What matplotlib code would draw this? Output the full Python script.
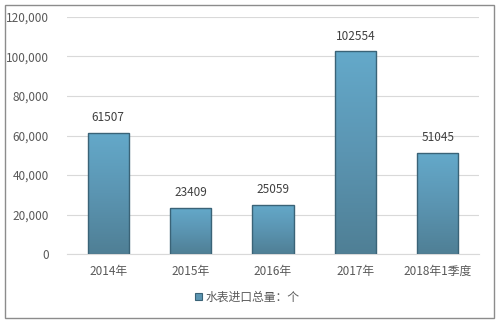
import matplotlib
matplotlib.use("Agg")
import matplotlib.pyplot as plt
import numpy as np
from matplotlib.patches import Rectangle, Patch
from matplotlib.colors import LinearSegmentedColormap

plt.rcParams['font.family'] = ['Noto Sans CJK SC', 'DejaVu Sans']

categories = ["2014年", "2015年", "2016年", "2017年", "2018年1季度"]
values = [61507, 23409, 25059, 102554, 51045]
yticks = [0, 20000, 40000, 60000, 80000, 100000, 120000]
ytick_labels = ["0", "20,000", "40,000", "60,000", "80,000", "100,000", "120,000"]
legend_label = "水表进口总量：个"

W, H = 501, 324
fig = plt.figure(figsize=(W / 100, H / 100), dpi=100)
ax = fig.add_axes([67 / W, 1 - 254 / H, (479 - 67) / W, (254 - 17) / H])

x = np.arange(len(categories))
bw = 0.5
bars = ax.bar(x, values, width=bw, color='none', edgecolor='#3A6377', linewidth=1.0, zorder=3)

grad = np.linspace(0, 1, 256).reshape(-1, 1)
cmap = LinearSegmentedColormap.from_list('g', ['#4F7F95', '#5B95B2', '#64A9CA'])
for b in bars:
    x0, y0 = b.get_x(), b.get_y()
    w, h = b.get_width(), b.get_height()
    im = ax.imshow(grad, extent=[x0, x0 + w, y0, y0 + h], origin='lower', cmap=cmap,
                   aspect='auto', zorder=2)
    im.set_clip_path(Rectangle((x0, y0), w, h, transform=ax.transData))

for xi, v in zip(x, values):
    ax.text(xi, v + 4500, str(v), ha='center', va='bottom', fontsize=8.5, color='#404040')

ax.set_xlim(-0.5, len(categories) - 0.5)
ax.set_ylim(0, 120000)
ax.set_yticks(yticks)
ax.set_yticklabels(ytick_labels, fontsize=8.5, color='#595959')
ax.set_xticks(x)
ax.set_xticklabels(categories, fontsize=8.5, color='#595959')
ax.tick_params(length=0, pad=8)
ax.tick_params(axis='y', pad=13)
ax.grid(axis='y', color='#D9D9D9', linewidth=0.8, zorder=0)
for s in ['top', 'right', 'left']:
    ax.spines[s].set_visible(False)
ax.spines['bottom'].set_color('#D9D9D9')
ax.spines['bottom'].set_linewidth(0.8)

handle = Patch(facecolor='#5B95B2', edgecolor='#3A6377', linewidth=0.8)
fig.legend([handle], [legend_label], loc='center', bbox_to_anchor=(247 / W, 1 - 297 / H),
           frameon=False, fontsize=8.5, handlelength=0.6, handleheight=0.6, handletextpad=0.3,
           labelcolor='#595959')

fig.patches.append(Rectangle((5 / W, 1 - 318 / H), (494 - 5) / W, (318 - 5) / H,
                             transform=fig.transFigure, fill=False, edgecolor='#8C8C8C',
                             linewidth=1.0))

fig.savefig("out.png", dpi=100)
